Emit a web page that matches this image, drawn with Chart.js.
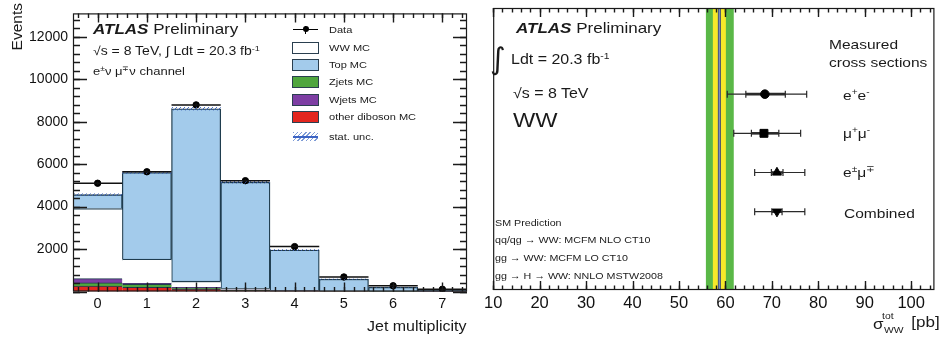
<!DOCTYPE html>
<html>
<head>
<meta charset="utf-8">
<script src="https://cdn.jsdelivr.net/npm/chart.js@4.4.1/dist/chart.umd.min.js"></script>
<style>
  body { margin: 0; width: 941px; height: 340px; position: relative; overflow: hidden; background: #fff;
         font-family: "Liberation Sans", Arial, sans-serif; color: #1a1a1a; }
  canvas { position: absolute; top: 0; }
  .t { position: absolute; white-space: nowrap; line-height: 1; transform-origin: 0 0; transform: scaleX(1.15); }
  .r { transform-origin: 100% 0; }
  .box { position: absolute; left: 292px; width: 25px; height: 10px; border: 1px solid #2a3f4f; }
  sup { font-size: 65%; line-height: 0; vertical-align: 0.55em; }
</style>
</head>
<body>
<canvas id="jets" width="480" height="340" style="left:0"></canvas>
<canvas id="xsec" width="461" height="340" style="left:480px"></canvas>

<!-- left panel labels -->
<div style="position:absolute;left:9px;top:3px;font-size:15.5px;line-height:1;writing-mode:vertical-rl;transform:rotate(180deg);white-space:nowrap">Events</div>
<div class="t" style="left:93px;top:21.5px;font-size:14.8px"><b><i>ATLAS</i></b> Preliminary</div>
<div class="t" style="left:93px;top:45px;font-size:12.2px">√s = 8 TeV, ∫ Ldt = 20.3 fb<sup>-1</sup></div>
<div class="t" style="left:93px;top:66px;font-size:11.3px">e<sup>±</sup>ν μ<sup>∓</sup>ν channel</div>
<div class="t r" style="right:475px;top:320px;font-size:13.9px">Jet multiplicity</div>

<!-- legend -->
<div style="position:absolute;left:293px;top:28.7px;width:25px;height:1.3px;background:#000"></div>
<div style="position:absolute;left:305px;top:25.5px;width:1.3px;height:8px;background:#000"></div>
<div style="position:absolute;left:302.6px;top:26.3px;width:6px;height:6px;border-radius:50%;background:#000"></div>
<div class="box" style="top:41.7px;background:#ffffff"></div>
<div class="box" style="top:58.5px;background:#a3cbeb"></div>
<div class="box" style="top:76px;background:#4fa63e"></div>
<div class="box" style="top:93.5px;background:#7d3ea3"></div>
<div class="box" style="top:111px;background:#e3261f"></div>
<div style="position:absolute;left:293px;top:132px;width:25px;height:9px;background:repeating-linear-gradient(135deg,#7d9bd6 0 1px,transparent 1px 3px)"></div>
<div style="position:absolute;left:293px;top:136px;width:25px;height:1.6px;background:#3b63c4"></div>
<div class="t" style="left:329px;top:24.6px;font-size:9.6px">Data</div>
<div class="t" style="left:329px;top:42.8px;font-size:9.6px">WW MC</div>
<div class="t" style="left:329px;top:59.5px;font-size:9.6px">Top MC</div>
<div class="t" style="left:329px;top:77px;font-size:9.6px">Zjets MC</div>
<div class="t" style="left:329px;top:94.5px;font-size:9.6px">Wjets MC</div>
<div class="t" style="left:329px;top:112px;font-size:9.6px">other diboson MC</div>
<div class="t" style="left:329px;top:132px;font-size:9.6px">stat. unc.</div>

<!-- right panel labels -->
<div class="t" style="left:515.7px;top:20.7px;font-size:14.8px"><b><i>ATLAS</i></b> Preliminary</div>
<div class="t" style="left:490px;top:44px;font-size:30px;font-family:'DejaVu Sans';transform:none">∫</div>
<div class="t" style="left:511px;top:52.9px;font-size:13.9px">Ldt = 20.3 fb<sup>-1</sup></div>
<div class="t" style="left:513px;top:86.9px;font-size:13.9px">√s = 8 TeV</div>
<div class="t" style="left:513px;top:109.7px;font-size:20.5px">WW</div>
<div class="t" style="left:829px;top:37.6px;font-size:13.5px">Measured</div>
<div class="t" style="left:829px;top:56px;font-size:13.5px">cross sections</div>
<div class="t" style="left:843px;top:88.6px;font-size:13.5px">e<sup>+</sup>e<sup>-</sup></div>
<div class="t" style="left:843px;top:126.9px;font-size:13.5px">μ<sup>+</sup>μ<sup>-</sup></div>
<div class="t" style="left:843px;top:166px;font-size:13.5px">e<sup>±</sup>μ<sup>∓</sup></div>
<div class="t" style="left:844px;top:207px;font-size:13.5px">Combined</div>
<div class="t" style="left:495px;top:218.7px;font-size:9.3px">SM Prediction</div>
<div class="t" style="left:495px;top:236.4px;font-size:9.3px">qq/qg → WW: MCFM NLO CT10</div>
<div class="t" style="left:495px;top:254.4px;font-size:9.3px">gg → WW: MCFM LO CT10</div>
<div class="t" style="left:495px;top:272px;font-size:9.3px">gg → H → WW: NNLO MSTW2008</div>
<div class="t" style="left:873px;top:316.6px;font-size:14.8px">σ</div>
<div class="t" style="left:882px;top:312px;font-size:9px">tot</div>
<div class="t" style="left:884px;top:326px;font-size:9px">WW</div>
<div class="t r" style="right:1px;top:314.7px;font-size:14.8px">[pb]</div>

<script>
// jet multiplicity histogram (left)
const jetBins = [0, 1, 2, 3, 4, 5, 6, 7];
const dataEvents = [5100, 5640, 8790, 5220, 2115, 685, 270, 105];
const dataErr = [71, 75, 94, 72, 46, 26, 16, 10];
const dibosonMC = [250, 200, 110, 40, 15, 5, 2, 1];
const zjetsMC = [155, 140, 60, 25, 10, 5, 2, 1];
const wjetsMC = [205, 40, 25, 10, 5, 2, 1, 0];
const wwMC = [3300, 1150, 290, 70, 25, 8, 3, 1];
const topMC = [650, 4070, 8125, 5005, 1895, 560, 190, 65];
const mcStatUnc = [60, 60, 80, 60, 40, 25, 15, 10];
const eventTicks = [2000, 4000, 6000, 8000, 10000, 12000];
const jetTicks = [0, 1, 2, 3, 4, 5, 6, 7];

// cross section summary (right)
const channelRows = [4, 3, 2, 1];   // e+e-, mu+mu-, e mu, combined
const xsecCentral = [68.5, 68.3, 71.1, 71.1];
const xsecStatLo = [64.4, 65.6, 69.9, 70.0];
const xsecStatHi = [72.9, 71.5, 72.4, 72.2];
const xsecTotLo = [60.4, 61.8, 66.3, 66.3];
const xsecTotHi = [77.5, 76.2, 77.1, 77.1];
const markerStyle = ['circle', 'rect', 'triangle', 'triangle'];
const markerRotation = [0, 0, 0, 180];
const markerRadius = [4.3, 5.6, 5.2, 5.2];
const smCentral = 58.7;
const smInner = [57.3, 60.1];
const smOuter = [55.8, 61.8];
const xsecTicks = [10, 20, 30, 40, 50, 60, 70, 80, 90, 100];

const FONT = '"Liberation Sans", Arial, sans-serif';

// ROOT style frame with inward ticks on all sides
// each tick set: [first value, step, count, length]
function frameTicks(xSets, ySets) {
    return {
        id: 'frameTicks',
        afterDraw(chart) {
            const ctx = chart.ctx, a = chart.chartArea;
            ctx.save();
            ctx.strokeStyle = '#1a1a1a';
            ctx.lineWidth = 1.4;
            xSets.forEach(s => {
                ctx.beginPath();
                for (let i = 0; i <= s[2]; i++) {
                    const p = Math.round(chart.scales.x.getPixelForValue(s[0] + i * s[1])) + 0.5;
                    ctx.moveTo(p, a.bottom); ctx.lineTo(p, a.bottom - s[3]);
                    ctx.moveTo(p, a.top); ctx.lineTo(p, a.top + s[3]);
                }
                ctx.stroke();
            });
            ySets.forEach(s => {
                ctx.beginPath();
                for (let i = 0; i <= s[2]; i++) {
                    const p = Math.round(chart.scales.y.getPixelForValue(s[0] + i * s[1])) + 0.5;
                    ctx.moveTo(a.left, p); ctx.lineTo(a.left + s[3], p);
                    ctx.moveTo(a.right, p); ctx.lineTo(a.right - s[3], p);
                }
                ctx.stroke();
            });
            ctx.lineWidth = 1.2;
            ctx.strokeRect(a.left + 0.5, a.top + 0.5, a.right - a.left - 1, a.bottom - a.top - 1);
            ctx.restore();
        }
    };
}

// data x-error lines, sqrt(N) bars and the hatched MC stat band
const histExtras = {
    id: 'histExtras',
    afterDatasetsDraw(chart) {
        const ctx = chart.ctx, x = chart.scales.x, y = chart.scales.y;
        const hc = document.createElement('canvas');
        hc.width = hc.height = 4;
        const g = hc.getContext('2d');
        g.strokeStyle = '#3a5fb8';
        g.lineWidth = 0.9;
        g.beginPath(); g.moveTo(0, 4); g.lineTo(4, 0); g.stroke();
        const pat = ctx.createPattern(hc, 'repeat');
        ctx.save();
        jetBins.forEach((b, i) => {
            const tot = dibosonMC[i] + zjetsMC[i] + wjetsMC[i] + wwMC[i] + topMC[i];
            const x0 = x.getPixelForValue(b - 0.5), x1 = x.getPixelForValue(b + 0.5);
            const yt = y.getPixelForValue(tot + mcStatUnc[i]), yb = y.getPixelForValue(tot - mcStatUnc[i]);
            ctx.fillStyle = pat;
            ctx.fillRect(x0, yt, x1 - x0, yb - yt);
        });
        ctx.strokeStyle = '#111';
        ctx.lineWidth = 1.5;
        ctx.beginPath();
        jetBins.forEach((b, i) => {
            const x0 = x.getPixelForValue(b - 0.5), x1 = x.getPixelForValue(b + 0.5), xc = x.getPixelForValue(b);
            const yv = y.getPixelForValue(dataEvents[i]);
            ctx.moveTo(x0, yv); ctx.lineTo(x1, yv);
            ctx.moveTo(xc, y.getPixelForValue(dataEvents[i] + dataErr[i]));
            ctx.lineTo(xc, y.getPixelForValue(dataEvents[i] - dataErr[i]));
        });
        ctx.stroke();
        ctx.restore();
    }
};

const outline = '#1f3c4e';
const stackSet = (label, values, color, border) => ({
    label: label,
    data: jetBins.map((b, i) => ({ x: b, y: values[i] })),
    backgroundColor: color,
    borderColor: outline,
    borderWidth: border,
    borderSkipped: false
});

new Chart(document.getElementById('jets'), {
    type: 'bar',
    data: {
        datasets: [
            stackSet('other diboson MC', dibosonMC, '#e3261f', { top: 1 }),
            stackSet('Zjets MC', zjetsMC, '#4fa63e', { top: 1 }),
            stackSet('Wjets MC', wjetsMC, '#7d3ea3', { top: 1 }),
            stackSet('WW MC', wwMC, '#ffffff', { top: 1.3 }),
            stackSet('Top MC', topMC, '#a3cbeb', { top: 1.3, left: 1.3, right: 1.3 }),
            {
                type: 'scatter',
                label: 'Data',
                data: jetBins.map((b, i) => ({ x: b, y: dataEvents[i] })),
                pointRadius: 3.2,
                backgroundColor: '#000',
                borderColor: '#000',
                order: -1
            }
        ]
    },
    options: {
        responsive: false,
        animation: false,
        layout: { padding: { top: 8, right: 13, left: 0, bottom: 0 } },
        datasets: { bar: { barPercentage: 1, categoryPercentage: 1 } },
        plugins: { legend: { display: false }, tooltip: { enabled: false } },
        scales: {
            x: {
                type: 'linear', min: -0.5, max: 7.5, stacked: true, offset: false,
                grid: { display: false, drawTicks: false }, border: { display: false },
                ticks: { color: '#111', padding: 4, font: { family: FONT, size: 14.5 }, callback: v => String(v) },
                afterBuildTicks: s => { s.ticks = jetTicks.map(v => ({ value: v })); },
                afterFit: s => { s.height = 48.5; }
            },
            y: {
                min: 0, max: 13100, stacked: true,
                grid: { display: false, drawTicks: false }, border: { display: false },
                ticks: { color: '#111', padding: 5, font: { family: FONT, size: 14 }, callback: v => String(v) },
                afterBuildTicks: s => { s.ticks = eventTicks.map(v => ({ value: v })); },
                afterFit: s => { s.width = 73; }
            }
        }
    },
    plugins: [histExtras, frameTicks([[-0.4, 0.2, 39, 4.5], [0, 1, 7, 9]], [[0, 400, 32, 7], [0, 2000, 6, 14]])]
});

// SM band and measurement error bars
const xsecExtras = {
    id: 'xsecExtras',
    beforeDatasetsDraw(chart) {
        const ctx = chart.ctx, x = chart.scales.x, y = chart.scales.y, a = chart.chartArea;
        const px = v => x.getPixelForValue(v);
        ctx.save();
        ctx.fillStyle = '#5ab847';
        ctx.fillRect(px(smOuter[0]), a.top, px(smOuter[1]) - px(smOuter[0]), a.bottom - a.top);
        ctx.fillStyle = '#f6e92a';
        ctx.fillRect(px(smInner[0]), a.top, px(smInner[1]) - px(smInner[0]), a.bottom - a.top);
        ctx.strokeStyle = '#34466f';
        ctx.lineWidth = 3;
        ctx.beginPath(); ctx.moveTo(px(smCentral), a.top); ctx.lineTo(px(smCentral), a.bottom); ctx.stroke();
        ctx.strokeStyle = '#7b8db8';
        ctx.lineWidth = 1.4;
        ctx.beginPath(); ctx.moveTo(px(smCentral), a.top); ctx.lineTo(px(smCentral), a.bottom); ctx.stroke();

        ctx.strokeStyle = '#2a2a2a';
        channelRows.forEach((r, i) => {
            const yc = y.getPixelForValue(r);
            ctx.lineWidth = 1.2;
            ctx.beginPath();
            ctx.moveTo(px(xsecTotLo[i]), yc); ctx.lineTo(px(xsecTotHi[i]), yc);
            [xsecTotLo[i], xsecTotHi[i], xsecStatLo[i], xsecStatHi[i]].forEach(v => {
                ctx.moveTo(px(v), yc - 3.5); ctx.lineTo(px(v), yc + 3.5);
            });
            ctx.stroke();
            ctx.lineWidth = 2.6;
            ctx.beginPath();
            ctx.moveTo(px(xsecStatLo[i]), yc); ctx.lineTo(px(xsecStatHi[i]), yc);
            ctx.stroke();
        });
        ctx.restore();
    }
};

new Chart(document.getElementById('xsec'), {
    type: 'scatter',
    data: {
        datasets: [{
            label: 'Measured cross sections',
            data: channelRows.map((r, i) => ({ x: xsecCentral[i], y: r })),
            pointStyle: markerStyle,
            rotation: markerRotation,
            pointRadius: markerRadius,
            backgroundColor: '#000',
            borderColor: '#000',
            borderWidth: 1
        }]
    },
    options: {
        responsive: false,
        animation: false,
        layout: { padding: { top: 8, right: 1, left: 9.3, bottom: 0 } },
        plugins: { legend: { display: false }, tooltip: { enabled: false } },
        scales: {
            x: {
                min: 10, max: 105,
                grid: { display: false, drawTicks: false }, border: { display: false },
                ticks: { color: '#111', padding: 4, font: { family: FONT, size: 16.5 }, callback: v => String(v) },
                afterBuildTicks: s => { s.ticks = xsecTicks.map(v => ({ value: v })); },
                afterFit: s => { s.height = 50; }
            },
            y: { display: false, min: -1, max: 6.2 }
        }
    },
    plugins: [xsecExtras, frameTicks([[10, 2, 47, 4.5], [10, 10, 9, 9]], [])]
});
</script>
</body>
</html>
